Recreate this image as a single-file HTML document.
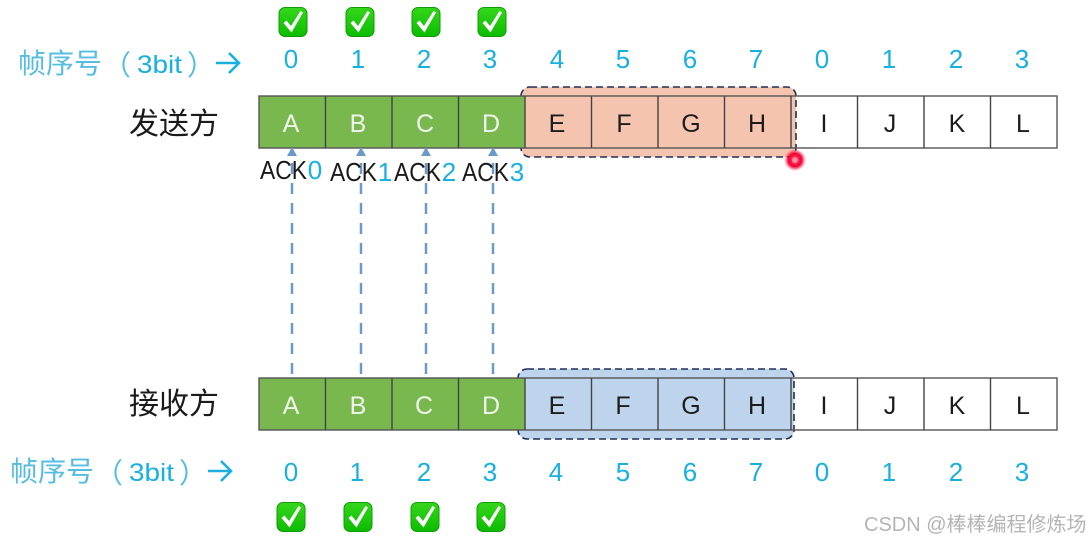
<!DOCTYPE html>
<html><head><meta charset="utf-8"><style>
html,body{margin:0;padding:0;background:#fff;width:1091px;height:540px;overflow:hidden}
svg{display:block;filter:blur(.35px)}
text{font-family:"Liberation Sans","Noto Sans CJK SC",sans-serif}
.d{font-size:26px;fill:#17b0e0;text-anchor:middle}
.l{font-size:25px;text-anchor:middle;fill:#1c1c1c}
.w{font-size:25px;text-anchor:middle;fill:#f0f6ea}
.h{font-size:30px;fill:#1a1a1a}
.s{font-size:28px;fill:#55bde0}
.b{font-size:25px;fill:#17b0e0}
.a{font-size:26px;fill:#1a1a1a}
.c{stroke:#444;stroke-width:1.4}
</style></head><body>
<svg width="1091" height="540" viewBox="0 0 1091 540" xmlns="http://www.w3.org/2000/svg">
<defs>
<linearGradient id="g" x1="0" y1="0" x2="0" y2="1"><stop offset="0" stop-color="#35d61c"/><stop offset="1" stop-color="#0cbc00"/></linearGradient>
<g id="k"><rect x="-14" y="-14.5" width="28" height="29" rx="6" fill="url(#g)" stroke="#0f9c06" stroke-width="1"/><path d="M-9.5 1L-6.5 -1.5L-2 4L7.5 -11L10 -9.5L-1.5 10.5Z" fill="#fff"/></g>
<radialGradient id="r"><stop offset="0" stop-color="#ff5070"/><stop offset=".6" stop-color="#f00030"/><stop offset="1" stop-color="#ff2050" stop-opacity="0"/></radialGradient>
</defs>

<use href="#k" x="293" y="22"/><use href="#k" x="360" y="22"/><use href="#k" x="426" y="22"/><use href="#k" x="492" y="22"/>
<use href="#k" x="291" y="517"/><use href="#k" x="358" y="517"/><use href="#k" x="425" y="517"/><use href="#k" x="491" y="517"/>

<text class="s" x="18" y="73">帧序号</text><text class="s" x="103" y="75">（</text><text class="b" x="137" y="73" textLength="45" lengthAdjust="spacingAndGlyphs">3bit</text><text class="s" x="187" y="75">）</text>
<text class="s" x="10" y="481">帧序号</text><text class="s" x="95" y="483">（</text><text class="b" x="129" y="481" textLength="45" lengthAdjust="spacingAndGlyphs">3bit</text><text class="s" x="179" y="483">）</text>
<path d="M216 63H238M229 53L239 63L229 73" fill="none" stroke="#17b0e0" stroke-width="2.6"/>
<path d="M208 471H230M221 461L231 471L221 481" fill="none" stroke="#17b0e0" stroke-width="2.6"/>

<text class="d" x="291" y="68">0</text><text class="d" x="358" y="68">1</text><text class="d" x="424" y="68">2</text><text class="d" x="490" y="68">3</text>
<text class="d" x="557" y="68">4</text><text class="d" x="623" y="68">5</text><text class="d" x="690" y="68">6</text><text class="d" x="756" y="68">7</text>
<text class="d" x="822" y="68">0</text><text class="d" x="889" y="68">1</text><text class="d" x="956" y="68">2</text><text class="d" x="1022" y="68">3</text>
<text class="d" x="291" y="481">0</text><text class="d" x="357" y="481">1</text><text class="d" x="424" y="481">2</text><text class="d" x="490" y="481">3</text>
<text class="d" x="556" y="481">4</text><text class="d" x="623" y="481">5</text><text class="d" x="690" y="481">6</text><text class="d" x="756" y="481">7</text>
<text class="d" x="822" y="481">0</text><text class="d" x="889" y="481">1</text><text class="d" x="956" y="481">2</text><text class="d" x="1022" y="481">3</text>

<text class="h" x="129" y="134">发送方</text>
<text class="h" x="129" y="414">接收方</text>

<!-- top row -->
<rect x="521" y="87" width="275" height="70" rx="9" fill="#f4c4ae"/>
<rect x="521" y="87" width="275" height="70" rx="9" fill="none" stroke="#1d2f58" stroke-width="1.6" stroke-dasharray="7 4"/>
<rect x="259" y="96" width="266" height="52" fill="#78b84e"/>
<rect x="259" y="96" width="798" height="52" fill="none" stroke="#555" stroke-width="1.4"/>
<path class="c" d="M325.5 96V148M392 96V148M458.5 96V148M525 96V148M591.5 96V148M658 96V148M724.5 96V148M791 96V148M857.5 96V148M924 96V148M990.5 96V148"/>

<!-- bottom row -->
<rect x="518" y="369" width="276" height="70" rx="9" fill="#bed4ec"/>
<rect x="518" y="369" width="276" height="70" rx="9" fill="none" stroke="#1d2f58" stroke-width="1.6" stroke-dasharray="7 4"/>
<rect x="259" y="378" width="266" height="52" fill="#78b84e"/>
<rect x="259" y="378" width="798" height="52" fill="none" stroke="#555" stroke-width="1.4"/>
<path class="c" d="M325.5 378V430M392 378V430M458.5 378V430M525 378V430M591.5 378V430M658 378V430M724.5 378V430M791 378V430M857.5 378V430M924 378V430M990.5 378V430"/>

<text class="w" x="291" y="132">A</text><text class="w" x="358" y="132">B</text><text class="w" x="425" y="132">C</text><text class="w" x="491" y="132">D</text>
<text class="l" x="557" y="132">E</text><text class="l" x="624" y="132">F</text><text class="l" x="691" y="132">G</text><text class="l" x="757" y="132">H</text>
<text class="l" x="824" y="132">I</text><text class="l" x="890" y="132">J</text><text class="l" x="957" y="132">K</text><text class="l" x="1023" y="132">L</text>
<text class="w" x="291" y="414">A</text><text class="w" x="358" y="414">B</text><text class="w" x="424" y="414">C</text><text class="w" x="491" y="414">D</text>
<text class="l" x="557" y="414">E</text><text class="l" x="623" y="414">F</text><text class="l" x="691" y="414">G</text><text class="l" x="757" y="414">H</text>
<text class="l" x="824" y="414">I</text><text class="l" x="890" y="414">J</text><text class="l" x="957" y="414">K</text><text class="l" x="1023" y="414">L</text>

<!-- ack arrows -->
<g stroke="#6a9bc8" stroke-width="2.5" stroke-dasharray="11 9" fill="none">
<path d="M292 163V378M361 163V378M426 163V378M493 163V378"/>
</g>
<g fill="#6a9bc8">
<path d="M292 147l-5 9h10zM361 147l-5 9h10zM426 147l-5 9h10zM493 147l-5 9h10z"/>
</g>

<text class="a" x="260" y="179" textLength="47" lengthAdjust="spacingAndGlyphs">ACK</text><text class="d" x="315" y="179">0</text>
<text class="a" x="330" y="181" textLength="47" lengthAdjust="spacingAndGlyphs">ACK</text><text class="d" x="385" y="181">1</text>
<text class="a" x="394" y="181" textLength="47" lengthAdjust="spacingAndGlyphs">ACK</text><text class="d" x="449" y="181">2</text>
<text class="a" x="462" y="181" textLength="47" lengthAdjust="spacingAndGlyphs">ACK</text><text class="d" x="517" y="181">3</text>

<circle cx="795" cy="160" r="11" fill="url(#r)"/>
<circle cx="795" cy="160" r="3" fill="#ff8a9c"/>

<text x="864" y="531" font-size="20" fill="#b4b4b4">CSDN @棒棒编程修炼场</text>
</svg>
</body></html>
